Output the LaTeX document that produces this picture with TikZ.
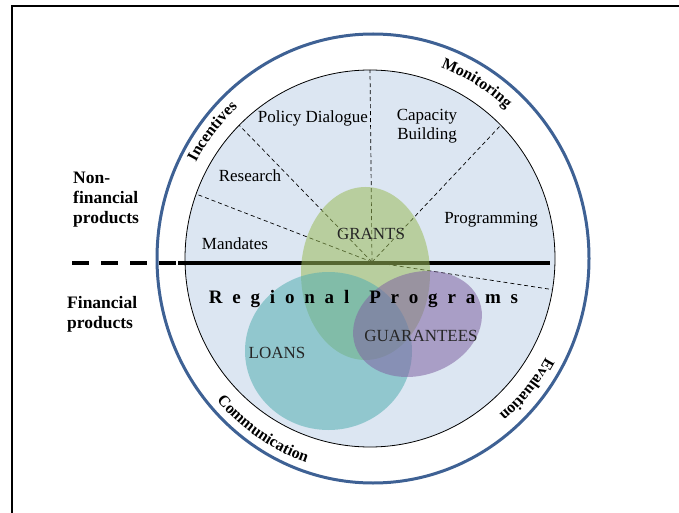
\documentclass[tikz,border=0pt]{standalone}
\usepackage{fontspec}
\setmainfont{Liberation Serif}
\usetikzlibrary{decorations.text}
\definecolor{ringblue}{RGB}{62,97,148}
\definecolor{innerfill}{RGB}{220,230,242}
\definecolor{grantgreen}{RGB}{155,187,89}
\definecolor{loanteal}{RGB}{85,175,178}
\definecolor{guarpurple}{RGB}{128,100,162}
\newcommand\rpsp{\hspace{9.8pt}}
\tikzset{
  lbl/.style={font=\fontsize{17}{19}\selectfont, text=black, inner sep=0pt},
  inlbl/.style={lbl, text=black!85},
  blbl/.style={font=\bfseries\fontsize{17.5}{20}\selectfont, inner sep=0pt, align=left},
  spoke/.style={draw=black, line width=0.7pt, dash pattern=on 4pt off 3pt},
  ringtext/.style={decorate, decoration={text along path, text align=center, text={#1}}},
  divider/.style={line width=4pt, black},
  blob/.style={opacity=0.55},
}
\begin{document}
\begin{tikzpicture}[x=1pt,y=1pt]
\useasboundingbox (0,0) rectangle (679,512);
% frame
\coordinate (fbl) at (12,-10);
\coordinate (ftl) at (12,506);
\coordinate (ftr) at (700,506);
\draw[line width=2.2pt] (fbl) -- (ftl) -- (ftr);
% centres
\coordinate (CO) at (373,253.5);
\coordinate (CI) at (370,253.5);
\coordinate (CT) at (371.5,253.5);
\coordinate (hub) at (372,250);
% outer ring
\draw[ringblue, line width=3pt] (CO) ellipse [x radius=216, y radius=224.5];
% inner disc
\draw[black, line width=0.8pt, fill=innerfill] (CI) ellipse [x radius=185, y radius=188.5];
% spokes
\path (CI) ++(90:185 and 188.5) coordinate (s1);
\path (CI) ++(45:185 and 188.5) coordinate (s2);
\path (CI) ++(135:185 and 188.5) coordinate (s3);
\path (CI) ++(160:185 and 188.5) coordinate (s4);
\path (CI) ++(-9.5:185 and 188.5) coordinate (s5);
\foreach \s in {s1,s2,s3,s4,s5} \draw[spoke] (hub) -- (\s);
% divider line
\coordinate (dl) at (72,249);
\coordinate (dm) at (178,249);
\coordinate (dr) at (550,249);
\draw[divider, dash pattern=on 16.5pt off 12.5pt] (dl) -- (dm);
\draw[divider] (dm) -- (dr);
% ring texts
\path[ringtext={|\bfseries\fontsize{16}{18}\selectfont|Monitoring}]
  (CT) ++(76:199 and 204) arc[start angle=76, end angle=41, x radius=199, y radius=204];
\path[ringtext={|\bfseries\fontsize{16}{18}\selectfont|Incentives}]
  (CT) ++(161:199 and 204) arc[start angle=161, end angle=123, x radius=199, y radius=204];
\path[ringtext={|\bfseries\fontsize{16}{18}\selectfont|Communication}]
  (CT) ++(214:206 and 215) arc[start angle=214, end angle=259, x radius=206, y radius=215];
\path[ringtext={|\bfseries\fontsize{16}{18}\selectfont|Evaluation}]
  (CT) ++(-22:199 and 204) arc[start angle=-22, end angle=-57, x radius=199, y radius=204];
% left labels (base = baseline of last line)
\node[blbl, anchor=base west] (nonfin) at (73,289) {Non-\\financial\\products};
\node[blbl, anchor=base west] (fin) at (67,184) {Financial\\products};
% sector labels
\node[lbl, anchor=base] (pd) at (313,389) {Policy Dialogue};
\node[lbl, anchor=base, align=center] (cb) at (427,372) {Capacity\\Building};
\node[lbl, anchor=base] (res) at (250,330) {Research};
\node[lbl, anchor=base] (prog) at (491,288) {Programming};
\node[lbl, anchor=base] (mand) at (235,263) {Mandates};
% product ellipses
\fill[grantgreen, blob] (365.5,238.5) ellipse [x radius=64.5, y radius=86.5];
\fill[loanteal, blob] (328.5,161) ellipse [x radius=83.5, y radius=79];
\fill[guarpurple, blob, rotate around={20:(417.5,188)}] (417.5,188) ellipse [x radius=66, y radius=51];
% labels over the ellipses
\node[lbl, anchor=base, font=\bfseries\fontsize{19}{22}\selectfont] (rp) at (363.5,209)
  {R\rpsp e\rpsp g\rpsp i\rpsp o\rpsp n\rpsp a\rpsp l\hspace{20pt}P\rpsp r\rpsp o\rpsp g\rpsp r\rpsp a\rpsp m\rpsp s};
\node[inlbl, anchor=base] (grants) at (371,273) {GRANTS};
\node[inlbl, anchor=base] (guar) at (421,171) {GUARANTEES};
\node[inlbl, anchor=base] (loans) at (277,154) {LOANS};
\end{tikzpicture}
\end{document}
